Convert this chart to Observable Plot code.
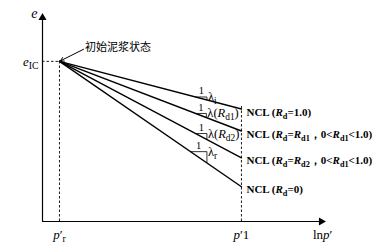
<!DOCTYPE html>
<html><head><meta charset="utf-8">
<script src="https://cdn.jsdelivr.net/npm/d3@7"></script>
<script src="https://cdn.jsdelivr.net/npm/@observablehq/plot@0.6"></script>
<style>body{margin:0;background:#fff}</style>
</head><body><div id="chart"></div>
<script>
// positions on the abstract ln p' (x) and e (y) axes
const xPr = 0.60;           // p'_r
const xP1 = 7.03;           // p'_1
const xMax = 10;
const eMax = 10;
const eIC = 7.70;           // initial slurry state
const eEnd = [5.41, 4.35, 3.06, 1.67];
const nclLabels = [
  "NCL (_R_~d~=1.0)",
  "NCL (_R_~d~=_R_~d1~，0<_R_~d1~<1.0)",
  "NCL (_R_~d~=_R_~d2~，0<_R_~d1~<1.0)",
  "NCL (_R_~d~=0)"
];
const slopeLabels = ["λ~i~", "λ(_R_~d1~)", "λ(_R_~d2~)", "λ~r~"];
const triStart = [5.41, 5.41, 5.41, 5.23];
const triWidth = [0.40, 0.38, 0.40, 0.58];
const startLabel = "初始泥浆状态";
const xTicks = [{x: xPr, t: "_p_′~r~"}, {x: xP1, t: "_p_′1"}];

const lineY = (i, x) => eIC + (eEnd[i] - eIC) * (x - xPr) / (xP1 - xPr);
const lines = eEnd.flatMap((e, i) => [{i, x: xPr, y: eIC}, {i, x: xP1, y: e}]);
const tris = triStart.map((x0, i) => {
  const x1 = x0 + triWidth[i];
  return {i, x0, x1, yh: lineY(i, x0), yv: lineY(i, x1)};
});
const ends = eEnd.map((e, i) => ({x: xP1, y: e, t: nclLabels[i]}));

const serif = "'Liberation Serif','Times New Roman',serif";
const chart = Plot.plot({
  width: 392, height: 252,
  marginLeft: 42, marginRight: 67, marginTop: 13, marginBottom: 31,
  x: {domain: [0, xMax], axis: null},
  y: {domain: [0, eMax], axis: null},
  style: {fontFamily: serif, background: "#fff"},
  marks: [
    // axes
    Plot.ruleY([0], {x1: 0, x2: xMax - 0.1, stroke: "#000", strokeWidth: 1.2}),
    Plot.ruleX([0], {y1: 0, y2: eMax - 0.15, stroke: "#000", strokeWidth: 1.2}),
    Plot.dot([{x: xMax - 0.15, y: 0}], {x: "x", y: "y", symbol: "triangle", r: 3, fill: "#000", stroke: "none", rotate: 90}),
    Plot.dot([{x: 0, y: eMax - 0.2}], {x: "x", y: "y", symbol: "triangle", r: 3, fill: "#000", stroke: "none"}),
    // dashed guides
    Plot.ruleY([eIC], {x1: 0, x2: xPr, stroke: "#000", strokeDasharray: "2.5,2", strokeWidth: 0.9}),
    Plot.ruleX([xPr], {y1: 0, y2: eIC, stroke: "#000", strokeDasharray: "2.5,2", strokeWidth: 0.9}),
    Plot.ruleX([xP1], {y1: 0, y2: eEnd[0] + 0.15, stroke: "#000", strokeDasharray: "2.5,2", strokeWidth: 0.9}),
    // NCL lines
    Plot.line(lines, {x: "x", y: "y", z: "i", stroke: "#000", strokeWidth: 1.4}),
    // slope triangles
    Plot.link(tris, {x1: "x0", x2: "x1", y1: "yh", y2: "yh", stroke: "#000", strokeWidth: 0.8}),
    Plot.link(tris, {x1: "x1", x2: "x1", y1: "yh", y2: "yv", stroke: "#000", strokeWidth: 0.8}),
    Plot.text(tris, {x: d => (d.x0 + d.x1) / 2, y: "yh", text: () => "1", dy: -6, fontSize: 10.5, fill: "#000"}),
    Plot.text(tris, {x: "x1", y: "yh", text: d => slopeLabels[d.i], textAnchor: "start", dx: 1, dy: 0, fontSize: 12.5, fill: "#000"}),
    // NCL labels
    Plot.text(ends, {x: "x", y: "y", text: "t", textAnchor: "start", dx: 5, dy: 3, fontSize: 11, fontWeight: "bold", fill: "#000"}),
    // initial state annotation
    Plot.arrow([{x1: 1.45, y1: 8.28, x2: xPr, y2: eIC}], {x1: "x1", y1: "y1", x2: "x2", y2: "y2", stroke: "#000", strokeWidth: 1, headLength: 6, insetEnd: 1}),
    Plot.text([startLabel], {x: 1.50, y: 8.37, text: d => d, textAnchor: "start", fontSize: 11, fill: "#000", fontFamily: "'Noto Sans CJK SC',sans-serif"}),
    // axis labels
    Plot.text(["_e_~IC~"], {x: 0, y: eIC, text: d => d, textAnchor: "end", dx: -4, fontSize: 13, fill: "#000"}),
    Plot.text(["_e_"], {x: 0, y: eMax, text: d => d, textAnchor: "end", dx: -5, dy: 0, fontSize: 14, fill: "#000"}),
    Plot.text(xTicks, {x: "x", y: 0, text: "t", dy: 13, fontSize: 13, fill: "#000"}),
    Plot.text(["ln_p_′"], {x: xMax - 0.1, y: 0, text: d => d, dy: 13, fontSize: 13, fill: "#000"})
  ]
});

// rich text: _x_ italic, ~x~ subscript
const NS = "http://www.w3.org/2000/svg";
chart.querySelectorAll("text").forEach(t => {
  const s = t.textContent;
  if (!/[_~]/.test(s)) return;
  t.textContent = "";
  const re = /(_[^_]+_|~[^~]+~|[^_~]+)/g;
  let m, shift = 0;
  while ((m = re.exec(s))) {
    const tok = m[0];
    const ts = document.createElementNS(NS, "tspan");
    if (tok[0] === "~") {
      ts.textContent = tok.slice(1, -1);
      ts.setAttribute("font-size", "0.75em");
      if (!shift) { ts.setAttribute("dy", 3); shift = 3; }
    } else {
      if (tok[0] === "_") { ts.textContent = tok.slice(1, -1); ts.setAttribute("font-style", "italic"); }
      else ts.textContent = tok;
      if (shift) { ts.setAttribute("dy", -shift); shift = 0; }
    }
    t.appendChild(ts);
  }
});
document.getElementById("chart").appendChild(chart);
</script></body></html>
